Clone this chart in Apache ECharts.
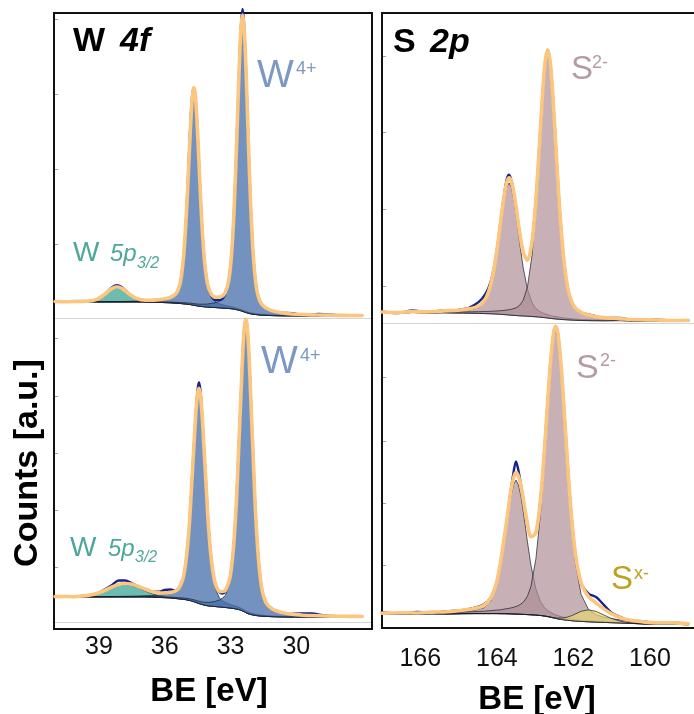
<!DOCTYPE html>
<html>
<head>
<meta charset="utf-8">
<script src="https://cdn.jsdelivr.net/npm/echarts/dist/echarts.min.js"></script>
<style>
  html, body { margin: 0; padding: 0; background: #fff; }
  #chart { width: 694px; height: 714px; }
</style>
</head>
<body>
<div id="chart"></div>
<script>
// ---------- W 4f, upper spectrum (counts in a.u.) ----------
const w4fTopBE = [41.0, 40.5, 40.0, 39.5, 39.1, 38.75, 38.45, 38.18, 37.9, 37.6, 37.3, 36.9, 36.5, 36.1, 35.75, 35.47, 35.29, 35.15, 35.04, 34.95, 34.87, 34.80, 34.73, 34.67, 34.61, 34.54, 34.47, 34.39, 34.30, 34.19, 34.05, 33.87, 33.65, 33.45, 33.25, 33.07, 32.93, 32.82, 32.73, 32.65, 32.58, 32.51, 32.45, 32.39, 32.32, 32.25, 32.17, 32.08, 31.97, 31.83, 31.65, 31.4, 31.1, 30.7, 30.2, 29.6, 29.0, 28.4, 27.8, 27.0];
const w4fTopBackground = [16.2, 16.0, 16.3, 16.1, 16.0, 16.0, 16.0, 16.0, 16.0, 16.0, 16.0, 15.9, 15.8, 15.5, 15.2, 14.8, 14.5, 14.2, 14.0, 13.7, 13.5, 13.3, 13.0, 12.8, 12.5, 12.2, 12.0, 11.7, 11.5, 11.2, 11.0, 10.7, 10.4, 10.1, 9.8, 9.5, 9.2, 8.8, 8.4, 8.0, 7.6, 7.1, 6.7, 6.2, 5.7, 5.2, 4.7, 4.2, 3.8, 3.4, 3.0, 2.7, 2.4, 2.2, 2.1, 2.0, 2.0, 2.0, 2.0, 2.0];
const w4fTopW5p = [0, 0, 0, 0.3, 2.1, 6.9, 12.3, 14.5, 12.1, 6.7, 2.5, 0.3, 0, 0, 0, 0, 0, 0, 0, 0, 0, 0, 0, 0, 0, 0, 0, 0, 0, 0, 0, 0, 0, 0, 0, 0, 0, 0, 0, 0, 0, 0, 0, 0, 0, 0, 0, 0, 0, 0, 0, 0, 0, 0, 0, 0, 0, 0, 0, 0];
const w4fTopW4f52 = [0.2, 0.2, 0.2, 0.25, 0.3, 0.35, 0.4, 0.47, 0.5, 0.67, 0.83, 1.15, 1.7, 2.7, 4.6, 9.1, 20.1, 43.8, 78.4, 117.3, 156, 187.3, 209.3, 216, 209.3, 187.3, 156, 117.3, 78.4, 43.8, 20.1, 9.1, 5.2, 3.7, 2.8, 2.2, 1.9, 1.7, 1.5, 1.4, 1.35, 1.3, 1.25, 1.2, 1.15, 1.1, 1.05, 1.0, 0.95, 0.9, 0.8, 0.7, 0.6, 0.5, 0.4, 0.35, 0.3, 0.25, 0.2, 0.2];
const w4fTopW4f72 = [0.1, 0.1, 0.13, 0.15, 0.2, 0.2, 0.2, 0.25, 0.25, 0.3, 0.3, 0.35, 0.4, 0.6, 0.7, 0.9, 1.0, 1.08, 1.17, 1.27, 1.34, 1.45, 1.5, 1.6, 1.7, 1.8, 1.9, 2.1, 2.3, 2.6, 3.0, 3.8, 5.2, 7.4, 12.4, 27.4, 60, 107, 160, 213, 256, 286, 295, 286, 256, 213, 160, 107, 60, 27.4, 12.4, 6.7, 4.2, 2.5, 1.5, 1.0, 0.7, 0.5, 0.4, 0.3];
const w4fTopResidual = [0, 0, 0, 0, 0, 0, 1, 1.5, 1, 0, 0, 0, 0, 0, 0, 0, 0, 0, 0, 3, 5, 5, 2, 0, 0, 0, 0, 0, 0, 0, 0, -1.5, -3, -3, -1.5, 0, 0, 0, 0, 0, 0, 3, 6, 3, 0, 0, 0, 0, 0, 0, 0, 0, 0, 0, 0.8, -0.5, 1, 0.5, 0, 0];

// ---------- W 4f, lower spectrum ----------
const w4fBotBE = [41.0, 40.6, 40.2, 39.8, 39.4, 39.0, 38.7, 38.4, 38.1, 37.81, 37.5, 37.2, 36.9, 36.6, 36.3, 36.0, 35.75, 35.55, 35.37, 35.16, 35.00, 34.87, 34.77, 34.67, 34.59, 34.51, 34.44, 34.37, 34.29, 34.21, 34.11, 34.01, 33.88, 33.72, 33.51, 33.37, 33.23, 33.02, 32.86, 32.73, 32.63, 32.53, 32.45, 32.37, 32.30, 32.23, 32.15, 32.07, 31.97, 31.87, 31.74, 31.58, 31.37, 31.1, 30.75, 30.3, 29.8, 29.3, 28.7, 28.1, 27.6, 27.0];
const w4fBotBackground = [25.0, 25.2, 24.8, 25.1, 25.0, 25.0, 25.0, 25.0, 25.0, 25.0, 25.0, 25.0, 25.0, 24.8, 24.6, 24.3, 24.0, 23.6, 23.2, 22.7, 22.2, 21.6, 21.0, 20.3, 19.7, 19.0, 18.5, 18.0, 17.5, 17.0, 16.5, 16.1, 15.8, 15.5, 15.1, 14.8, 14.5, 14.0, 13.5, 13.0, 12.5, 11.8, 11.0, 10.2, 9.3, 8.6, 8.0, 7.5, 7.0, 6.6, 6.2, 5.9, 5.6, 5.3, 5.1, 5.0, 5.0, 5.0, 5.0, 5.0, 5.0, 5.0];
const w4fBotW5p = [0, 0, 0.1, 0.4, 1.4, 3.7, 6.3, 9.3, 11.6, 12.5, 11.5, 9.1, 6.2, 3.6, 1.8, 0.8, 0.3, 0.15, 0.05, 0, 0, 0, 0, 0, 0, 0, 0, 0, 0, 0, 0, 0, 0, 0, 0, 0, 0, 0, 0, 0, 0, 0, 0, 0, 0, 0, 0, 0, 0, 0, 0, 0, 0, 0, 0, 0, 0, 0, 0, 0, 0, 0];
const w4fBotW4f52 = [0.18, 0.2, 0.23, 0.27, 0.32, 0.38, 0.43, 0.5, 0.58, 0.68, 0.83, 1.0, 1.27, 1.66, 2.2, 3.1, 4.3, 5.9, 8.9, 19.8, 43.2, 77.3, 115.7, 153.8, 184.7, 206.4, 213, 206.4, 184.7, 153.8, 115.7, 77.3, 43.2, 19.8, 8.9, 6.6, 4.9, 3.6, 3.0, 2.6, 2.3, 2.1, 1.9, 1.8, 1.7, 1.55, 1.45, 1.36, 1.26, 1.16, 1.06, 0.94, 0.81, 0.7, 0.57, 0.45, 0.36, 0.3, 0.24, 0.19, 0.16, 0.14];
const w4fBotW4f72 = [0.15, 0.16, 0.18, 0.2, 0.22, 0.25, 0.27, 0.3, 0.33, 0.36, 0.4, 0.46, 0.52, 0.58, 0.67, 0.78, 0.9, 1.0, 1.1, 1.3, 1.45, 1.6, 1.7, 1.9, 2.0, 2.1, 2.3, 2.4, 2.6, 2.8, 3.2, 3.5, 4.1, 5.0, 6.8, 9.1, 12.3, 27.2, 59.3, 106, 158.6, 210.8, 253.2, 283, 292, 283, 253.2, 210.8, 158.6, 106, 59.3, 27.2, 12.3, 6.9, 4.3, 2.6, 1.7, 1.2, 0.82, 0.6, 0.48, 0.41];
const w4fBotResidual = [0, 0, 0, 0, 0, 0, 1, 2, 4, 3, 1, 0, 0, 0, 1, 3, 3, 1, 0, 0, 0, 0, 0, 0, 0, 3, 6, 4, 0, 0, 0, 0, 0, 0, -1, -2, -1, 0, 0, 0, 0, 0, 0, 0, 0, 0, 0, 0, 0, 0, 0, 0, 0, 0, 0, 0, 1.5, 2, 0.5, 0, 0, 0];

// ---------- S 2p, upper spectrum ----------
const s2pTopBE = [167.0, 166.6, 166.2, 165.8, 165.4, 165.1, 164.9, 164.73, 164.48, 164.30, 164.16, 164.05, 163.96, 163.88, 163.81, 163.74, 163.68, 163.62, 163.55, 163.48, 163.40, 163.31, 163.20, 163.08, 162.98, 162.89, 162.81, 162.74, 162.67, 162.60, 162.53, 162.45, 162.36, 162.26, 162.14, 161.99, 161.79, 161.5, 161.2, 160.8, 160.4, 160.0, 159.5, 159.0];
const s2pTopBackground = [10.4, 9.6, 10.5, 9.8, 10.2, 9.9, 9.9, 9.8, 9.6, 9.4, 9.2, 9.0, 8.8, 8.6, 8.4, 8.2, 8.0, 7.8, 7.6, 7.4, 7.2, 7.0, 6.8, 6.5, 6.2, 5.9, 5.6, 5.3, 5.0, 4.6, 4.3, 4.0, 3.7, 3.4, 3.1, 2.8, 2.5, 2.3, 2.2, 2.4, 1.8, 2.2, 1.7, 2.1];
const s2pTopS2p12 = [0.32, 0.41, 0.55, 0.78, 1.17, 1.69, 2.26, 3.04, 5.5, 12.3, 26.8, 47.9, 71.7, 95.3, 114.4, 127.9, 132, 127.9, 114.4, 95.3, 71.7, 47.9, 26.8, 13.7, 8.3, 5.8, 4.5, 3.8, 3.3, 2.84, 2.52, 2.23, 1.94, 1.69, 1.45, 1.21, 0.98, 0.74, 0.57, 0.42, 0.33, 0.26, 0.2, 0.16];
const s2pTopS2p32 = [0.32, 0.37, 0.45, 0.58, 0.77, 0.98, 1.14, 1.35, 1.72, 2.12, 2.52, 2.94, 3.34, 3.76, 4.24, 4.77, 5.3, 5.96, 6.89, 8.2, 10.7, 15.8, 29.2, 61.5, 108.7, 164.8, 216.5, 251.5, 265, 251.5, 216.5, 164.8, 108.7, 61.5, 29.2, 13.1, 6.9, 4.0, 2.6, 1.6, 1.1, 0.8, 0.58, 0.42];
const s2pTopResidual = [0.5, -0.5, 1, -0.5, 0.5, 0, 0.5, 1, 4, 5, 3, 1, 0, 0, 1, 3, 3, 1, 0, 0, 0, 0, 0, 0, 0, 0, 0, 0, 0, 0, 0, 0, 0, 0, 0, 0, 0, 0.5, -0.4, 0.6, -0.5, 0.4, 0.3, -0.3];

// ---------- S 2p, lower spectrum ----------
const s2pBotBE = [167.0, 166.5, 166.1, 165.7, 165.3, 164.9, 164.6, 164.35, 164.16, 164.01, 163.90, 163.80, 163.71, 163.64, 163.56, 163.50, 163.44, 163.37, 163.30, 163.20, 163.11, 162.98, 162.86, 162.76, 162.67, 162.60, 162.52, 162.46, 162.40, 162.32, 162.25, 162.16, 162.07, 161.95, 161.80, 161.60, 161.40, 161.20, 161.00, 160.75, 160.50, 160.20, 159.80, 159.40, 159.00];
const s2pBotBackground = [13.0, 13.3, 12.8, 13.2, 13.0, 13.3, 13.4, 13.4, 13.4, 13.4, 13.3, 13.3, 13.2, 13.1, 13.0, 12.9, 12.8, 12.7, 12.6, 12.4, 12.2, 11.9, 11.5, 11.0, 10.4, 9.8, 9.1, 8.6, 8.1, 7.6, 7.2, 6.8, 6.4, 6.0, 5.6, 5.2, 4.9, 4.6, 4.3, 4.0, 3.6, 3.1, 2.6, 2.9, 2.2];
const s2pBotS2p12 = [0.33, 0.45, 0.6, 0.83, 1.23, 2.0, 3.2, 5.6, 12.5, 27.2, 48.6, 72.8, 96.7, 116.2, 129.8, 134, 129.8, 118.2, 100.5, 72.5, 49.7, 26.1, 13.9, 8.6, 6.1, 4.9, 4.0, 3.6, 3.2, 2.75, 2.5, 2.2, 1.9, 1.65, 1.38, 1.1, 0.91, 0.76, 0.65, 0.54, 0.45, 0.38, 0.3, 0.24, 0.2];
const s2pBotS2p32 = [0.43, 0.54, 0.66, 0.83, 1.08, 1.46, 1.9, 2.4, 3.0, 3.5, 3.9, 4.7, 5.3, 5.9, 6.8, 7.6, 8.6, 10.3, 12.6, 18.4, 28.4, 56.2, 102, 155.8, 210.2, 249.1, 280.2, 288, 280.2, 249.1, 210.2, 155.8, 106.8, 59, 27, 11.9, 7.3, 5.2, 4.0, 2.9, 2.2, 1.7, 1.23, 0.94, 0.73];
const s2pBotSx = [0, 0, 0, 0, 0, 0, 0, 0, 0, 0, 0, 0, 0, 0, 0, 0, 0, 0, 0, 0, 0, 0, 0, 0, 0.1, 0.15, 0.3, 0.5, 0.75, 1.3, 1.9, 3.1, 4.6, 7.0, 10.1, 12, 10.6, 7.3, 4.2, 1.6, 0.4, 0.05, 0, 0, 0];
const s2pBotResidual = [0.8, -0.6, 1.0, -0.5, 0.4, 0, 0.5, 1, 0.5, 0, 0, 0, 0, 0, 6, 11, 6, 1, 0, 0, 0, 0, 0, 0, 0, 0, 0, 0, 0, 0, 0, 0, 0, 0, 0, 3, 6, 4, 1, 0.5, -0.5, 0.6, -0.4, 0.5, -0.3];

// ---------- axis ticks ----------
const w4fTickLabels = [39, 36, 33, 30];
const s2pTickLabels = [166, 164, 162, 160];
const w4fTopCountTicks = [74, 149, 224, 299];
const w4fBotCountTicks = [55, 112, 169, 226, 284];
const s2pTopCountTicks = [37, 114, 191, 267];
const s2pBotCountTicks = [62, 124, 186, 250];

const FONT = '"Liberation Sans", Arial, Helvetica, sans-serif';
const ENVELOPE = '#fdc67e';
const MEASURED = '#15228c';
const OUTLINE = 'rgba(20,22,40,0.85)';
const W4F_FILL = 'rgba(70,110,170,0.75)';
const W5P_FILL = 'rgba(60,165,150,0.75)';
const S2_FILL = 'rgba(172,140,148,0.68)';
const SX_FILL = 'rgba(232,214,112,0.68)';

// envelope = background + all fitted components
function envelopeOf(bg, comps) {
  return bg.map((b, i) => comps.reduce((s, c) => s + c[i], b));
}

// filled component between its curve and the background
function componentSeries(gi, be, bg, comp, fill) {
  return {
    type: 'custom', xAxisIndex: gi, yAxisIndex: gi, clip: false, silent: true, z: 2,
    data: [[be[0], bg[0]]],
    renderItem: function (params, api) {
      const pts = [];
      for (let i = 0; i < be.length; i++) pts.push(api.coord([be[i], bg[i] + comp[i]]));
      for (let i = be.length - 1; i >= 0; i--) pts.push(api.coord([be[i], bg[i]]));
      return {
        type: 'polygon',
        shape: { points: pts },
        style: { fill: fill, stroke: OUTLINE, lineWidth: 0.8 }
      };
    }
  };
}

function curveSeries(gi, be, ys, color, width, z) {
  return {
    type: 'line', xAxisIndex: gi, yAxisIndex: gi, silent: true, clip: false, z: z,
    data: be.map((x, i) => [x, ys[i]]),
    symbol: 'none', showSymbol: false, smooth: 0.3,
    lineStyle: { color: color, width: width, cap: 'round', join: 'round' }
  };
}

function panelSeries(gi, be, bg, comps, residual) {
  const env = envelopeOf(bg, comps.map(c => c.values));
  const measured = env.map((v, i) => v + residual[i]);
  const out = comps.map(c => componentSeries(gi, be, bg, c.values, c.fill));
  out.push(curveSeries(gi, be, measured, MEASURED, 2.4, 4));
  out.push(curveSeries(gi, be, env, ENVELOPE, 3.6, 5));
  return out;
}

function xAxisOf(gi, min, max, labels, margin) {
  return {
    type: 'value', gridIndex: gi, min: min, max: max, inverse: true,
    axisLine: { show: true, onZero: false, lineStyle: { color: '#d4d4d4', width: 1 } },
    axisTick: { show: false }, splitLine: { show: false },
    axisLabel: labels ? {
      show: true, customValues: labels, margin: margin,
      fontSize: 25, color: '#111', fontFamily: FONT,
      showMinLabel: true, showMaxLabel: true, hideOverlap: false
    } : { show: false }
  };
}

function yAxisOf(gi, max, ticks) {
  return {
    type: 'value', gridIndex: gi, min: 0, max: max,
    axisLine: { show: false }, splitLine: { show: false }, axisLabel: { show: false },
    axisTick: { show: true, inside: true, length: 4, customValues: ticks, lineStyle: { color: '#a0a0a0', width: 1 } }
  };
}

function label(text, x, y, size, color, opts) {
  opts = opts || {};
  return {
    type: 'text', z: 50, x: x, y: y, rotation: opts.rotation || 0, silent: true,
    style: {
      text: text, x: 0, y: 0, fill: color,
      font: (opts.style || 'normal') + ' ' + (opts.weight || 'normal') + ' ' + size + 'px ' + FONT,
      align: opts.align || 'left', verticalAlign: 'middle',
      textAlign: opts.align || 'left', textVerticalAlign: 'middle'
    }
  };
}

const chart = echarts.init(document.getElementById('chart'), null, { renderer: 'canvas' });

const series = [].concat(
  panelSeries(0, w4fTopBE, w4fTopBackground, [
    { values: w4fTopW5p, fill: W5P_FILL },
    { values: w4fTopW4f52, fill: W4F_FILL },
    { values: w4fTopW4f72, fill: W4F_FILL }
  ], w4fTopResidual),
  panelSeries(1, w4fBotBE, w4fBotBackground, [
    { values: w4fBotW5p, fill: W5P_FILL },
    { values: w4fBotW4f52, fill: W4F_FILL },
    { values: w4fBotW4f72, fill: W4F_FILL }
  ], w4fBotResidual),
  panelSeries(2, s2pTopBE, s2pTopBackground, [
    { values: s2pTopS2p12, fill: S2_FILL },
    { values: s2pTopS2p32, fill: S2_FILL }
  ], s2pTopResidual),
  panelSeries(3, s2pBotBE, s2pBotBackground, [
    { values: s2pBotS2p12, fill: S2_FILL },
    { values: s2pBotS2p32, fill: S2_FILL },
    { values: s2pBotSx, fill: SX_FILL }
  ], s2pBotResidual)
);

const W_COLOR = '#7d98c4';
const W5P_COLOR = '#4da79b';
const S_COLOR = '#b59ca2';
const SX_COLOR = '#bea11d';

chart.setOption({
  animation: false,
  backgroundColor: '#ffffff',
  grid: [
    { left: 54, top: 13, width: 318, height: 305 },
    { left: 54, top: 318, width: 318, height: 304 },
    { left: 382, top: 13, width: 312, height: 310 },
    { left: 382, top: 323, width: 312, height: 304 }
  ],
  xAxis: [
    xAxisOf(0, 26.55, 41.05, null),
    xAxisOf(1, 26.55, 41.05, w4fTickLabels, 13),
    xAxisOf(2, 158.85, 167, null),
    xAxisOf(3, 158.85, 167, s2pTickLabels, 20)
  ],
  yAxis: [
    yAxisOf(0, 305, w4fTopCountTicks),
    yAxisOf(1, 304, w4fBotCountTicks),
    yAxisOf(2, 310, s2pTopCountTicks),
    yAxisOf(3, 304, s2pBotCountTicks)
  ],
  series: series,
  graphic: [
    { type: 'rect', z: 1, silent: true, shape: { x: 54, y: 13, width: 318, height: 616 }, style: { fill: 'none', stroke: '#111', lineWidth: 2 } },
    { type: 'rect', z: 1, silent: true, shape: { x: 382, y: 13, width: 360, height: 615 }, style: { fill: 'none', stroke: '#111', lineWidth: 2 } },

    label('W', 73, 42, 34, '#000', { weight: 'bold' }),
    label('4f', 120, 42, 34, '#000', { weight: 'bold', style: 'italic' }),
    label('S', 393, 43, 34, '#000', { weight: 'bold' }),
    label('2p', 430, 43, 34, '#000', { weight: 'bold', style: 'italic' }),

    label('W', 257, 76, 39, W_COLOR),
    label('4+', 296, 69, 18, W_COLOR),
    label('W', 261, 362, 39, W_COLOR),
    label('4+', 300, 356, 18, W_COLOR),

    label('W', 73, 253, 28, W5P_COLOR),
    label('5p', 110, 254, 24, W5P_COLOR, { style: 'italic' }),
    label('3/2', 137, 264, 16, W5P_COLOR, { style: 'italic' }),
    label('W', 70, 548, 28, W5P_COLOR),
    label('5p', 108, 549, 24, W5P_COLOR, { style: 'italic' }),
    label('3/2', 135, 558, 16, W5P_COLOR, { style: 'italic' }),

    label('S', 571, 70, 33, S_COLOR),
    label('2-', 592, 63, 18, S_COLOR),
    label('S', 576, 369, 34, S_COLOR),
    label('2-', 600, 361, 18, S_COLOR),
    label('S', 611, 580, 33, SX_COLOR),
    label('x-', 634, 574, 18, SX_COLOR),

    label('Counts [a.u.]', 28, 463, 34, '#000', { weight: 'bold', align: 'center', rotation: Math.PI / 2 }),
    label('BE [eV]', 209, 692, 33, '#000', { weight: 'bold', align: 'center' }),
    label('BE [eV]', 537, 700, 33, '#000', { weight: 'bold', align: 'center' })
  ]
});
</script>
</body>
</html>
